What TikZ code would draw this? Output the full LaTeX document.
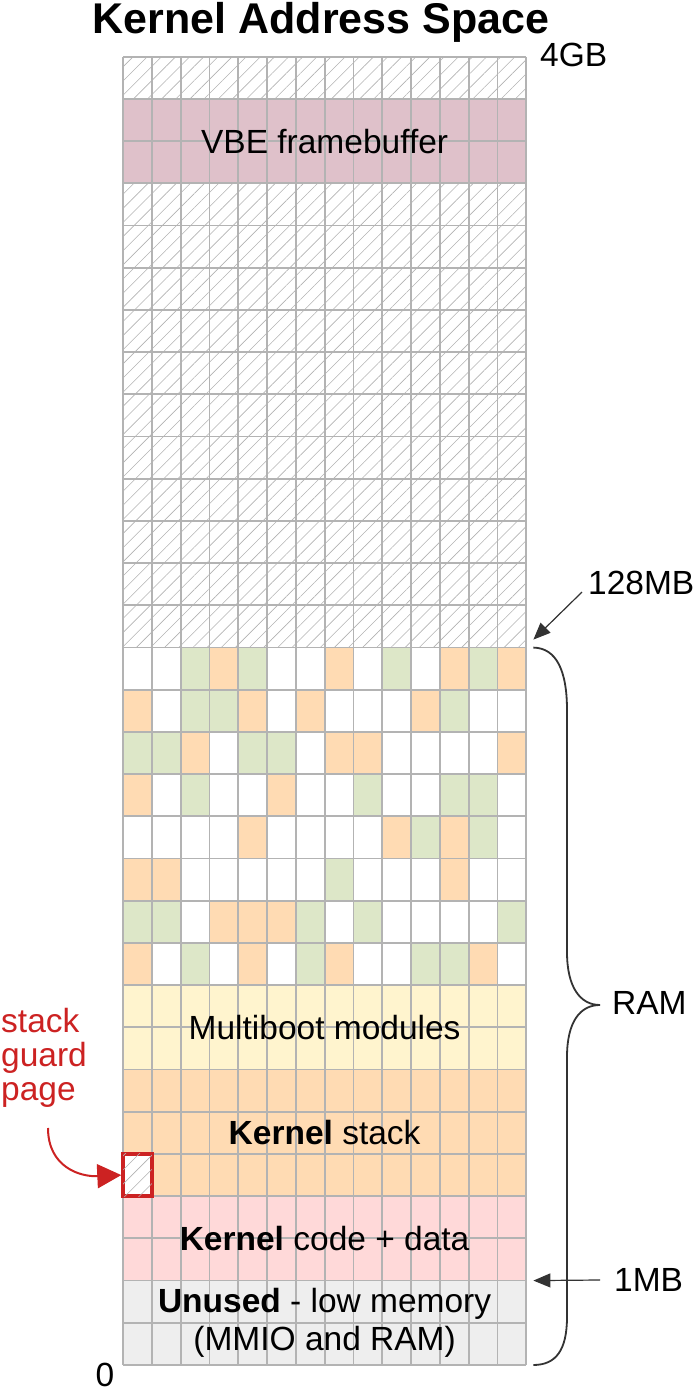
\documentclass[tikz,border=0pt]{standalone}
\usepackage{fontspec}
\setmainfont{Liberation Sans}
\usetikzlibrary{patterns.meta,arrows.meta}
\definecolor{gridgray}{HTML}{B3B3B3}
\definecolor{unusedgray}{HTML}{EEEEEE}
\definecolor{codepink}{HTML}{FFD9D9}
\definecolor{stackorange}{HTML}{FFDBB3}
\definecolor{bootyellow}{HTML}{FFF4CE}
\definecolor{freegreen}{HTML}{DDE7C8}
\definecolor{vbemauve}{HTML}{DFC1CA}
\definecolor{guardred}{HTML}{CC2222}
\tikzset{
    cell/.style={draw=gridgray, line width=1.8pt},
    hatch/.style={pattern={Lines[angle=45,distance=10pt,line width=0.6pt]}, pattern color=gray!60},
    lbl/.style={font=\fontsize{33.5}{38}\selectfont, inner sep=0pt},
    pointer/.style={-{Triangle[length=17pt,width=14pt]}, line width=1.2pt, draw=black!80, fill=black!80},
}

\begin{document}
\begin{tikzpicture}[x=1pt,y=1pt]
    \useasboundingbox (0,0) rectangle (694,1392);
    \node[lbl, font=\fontsize{43}{48}\selectfont\bfseries, anchor=base] (title) at (321,1358) {Kernel Address Space};
    \begin{scope}[shift={(123,27)},x=28.8pt,y=42.2pt]
        % regions
        \fill[unusedgray] (0,0) rectangle (14,2);
        \fill[codepink] (0,2) rectangle (14,4);
        \fill[stackorange] (0,4) rectangle (14,7);
        \fill[bootyellow] (0,7) rectangle (14,9);
        \fill[vbemauve] (0,28) rectangle (14,30);
        \fill[hatch] (0,17) rectangle (14,28);
        \fill[hatch] (0,30) rectangle (14,31);
        % pages in RAM
        \foreach \row/\cols in {16/{3,7,11,13},15/{0,4,6,10},14/{2,7,8,13},13/{0,5},
                                12/{4,9,11},11/{0,1,11},10/{3,4,5},9/{0,4,7,12}}
            \foreach \col in \cols
                \fill[stackorange] (\col,\row) rectangle ++(1,1);
        \foreach \row/\cols in {16/{2,4,9,12},15/{2,3,11},14/{0,1,4,5},13/{2,8,11,12},
                                12/{10,12},11/{7},10/{0,1,6,8,13},9/{2,6,10,11}}
            \foreach \col in \cols
                \fill[freegreen] (\col,\row) rectangle ++(1,1);
        \draw[cell, step=1] (0,0) grid (14,31);
        \node[draw=guardred, line width=3.4pt, fill=white, postaction={hatch},
              minimum width=28.8pt, minimum height=42.2pt, inner sep=0pt, outer sep=0pt] (guard) at (0.5,4.5) {};
        % labels
        \node[lbl] (vbe) at (7,29) {VBE framebuffer};
        \node[lbl] (multiboot) at (7,8) {Multiboot modules};
        \node[lbl] (kstack) at (7,5.5) {\textbf{Kernel} stack};
        \node[lbl] (kcode) at (7,3) {\textbf{Kernel} code + data};
        \node[lbl, align=center] (unused) at (7,1) {\textbf{Unused} - low memory\\(MMIO and RAM)};
        \coordinate (ramtop) at (14.25,17);
        \coordinate (rambot) at (14.25,0);
        \coordinate (lowtop) at (14.25,2);
    \end{scope}
    \node[lbl, anchor=west] (gb4) at (540,1337) {4GB};
    \node[lbl, anchor=west] (mb128) at (588,809) {128MB};
    \node[lbl, anchor=west] (mb1) at (614,112) {1MB};
    \node[lbl] (zero) at (105,17) {0};
    \draw[pointer] ([shift={(-6,3)}]mb128.south west) -- ([yshift=8pt]ramtop);
    \draw[pointer] ([xshift=-14pt]mb1.west) -- (lowtop);
    % RAM brace
    \coordinate (bracetip) at (600,387);
    \draw[line width=1.8pt, draw=black!80] (ramtop) .. controls (556,744) and (567,722) .. (567,682)
        -- (567,440) .. controls (567,405) and (580,387) .. (bracetip)
        .. controls (580,387) and (567,370) .. (567,335)
        -- (567,75) .. controls (567,42) and (556,27) .. (rambot);
    \node[lbl, anchor=west] (ram) at (612,389) {RAM};
    % guard page
    \node[lbl, text=guardred, align=left, anchor=north west, font=\fontsize{33.5}{34}\selectfont] (guardlbl) at (1,384) {stack\\guard\\page};
    \draw[guardred, line width=2pt, -{Triangle[length=24pt,width=24pt]}] (48,264) .. controls (48,225) and (80,215) .. ([xshift=-1.7pt]guard.west);
\end{tikzpicture}
\end{document}
